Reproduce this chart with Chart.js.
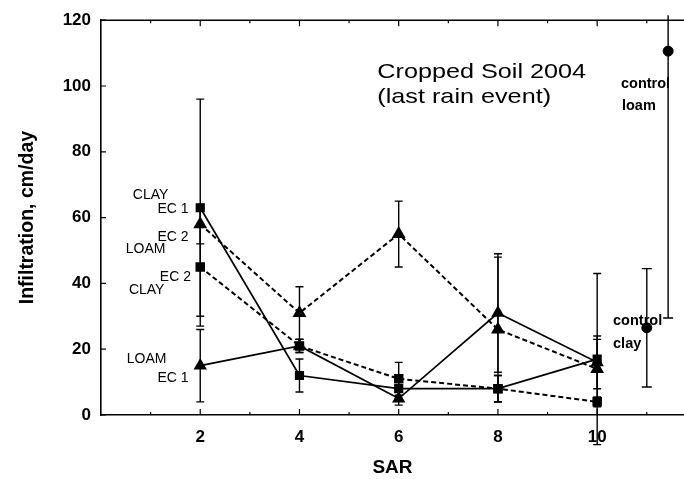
<!DOCTYPE html>
<html>
<head>
<meta charset="utf-8">
<script src="https://cdn.jsdelivr.net/npm/chart.js@4.4.1/dist/chart.umd.min.js"></script>
<style>
html,body{margin:0;padding:0;background:#fff;}
#wrap{width:684px;height:479px;}
</style>
</head>
<body>
<div id="wrap"><canvas id="c" width="684" height="479"></canvas></div>
<script>
// ---- data ----
const sar = [2, 4, 6, 8, 10];
const clayEC1 = [63, 12, 8, 8, 17];
const clayEC2 = [45, 21, 11, 8, 4];
const loamEC1 = [15, 21, 5, 31, 16];
const loamEC2 = [58, 31, 55, 26, 14];
const clayEC1Err = [33, 5, 3, 4, 26];
const clayEC2Err = [18, 2, 5, 4, 1.5];
const loamEC1Err = [11, 2, 2, 18, 8];
const loamEC2Err = [6, 8, 10, 22, 9];
const controlLoamX = [11.43];
const controlLoam = [110.6];
const controlLoamLow = [29.5];
const controlLoamHigh = [121.5];
const controlClayX = [11.0];
const controlClay = [26.5];
const controlClayErr = [18];
const xTicks = [2, 4, 6, 8, 10];
const yTicks = [0, 20, 40, 60, 80, 100, 120];
const titleLines = ["Cropped Soil 2004", "(last rain event)"];
const seriesLabels = [
  {t: "CLAY", x: 1.0, y: 66.9}, {t: "EC 1", x: 1.45, y: 62.7},
  {t: "EC 2", x: 1.45, y: 54.0}, {t: "LOAM", x: 0.9, y: 50.4},
  {t: "EC 2", x: 1.5, y: 42.0}, {t: "CLAY", x: 0.92, y: 38.1},
  {t: "LOAM", x: 0.92, y: 17.1}, {t: "EC 1", x: 1.45, y: 11.1}
];
const controlLabels = [
  {t: "control", x: 10.48, y: 100.5}, {t: "loam", x: 10.5, y: 93.9},
  {t: "control", x: 10.32, y: 28.5}, {t: "clay", x: 10.32, y: 21.7}
];

const pts = (xs, ys) => xs.map((x, i) => ({x: x, y: ys[i]}));
const symErr = (ys, es) => ys.map((v, i) => [v - es[i], v + es[i]]);

const datasets = [
  {label: "CLAY EC 1", data: pts(sar, clayEC1), err: symErr(clayEC1, clayEC1Err), cap: 8,
   showLine: true, borderColor: "#000", borderWidth: 1.7, pointStyle: "rect", pointRadius: 5.3,
   backgroundColor: "#000", pointBackgroundColor: "#000", pointBorderColor: "#000"},
  {label: "CLAY EC 2", data: pts(sar, clayEC2), err: symErr(clayEC2, clayEC2Err), cap: 8,
   showLine: true, borderColor: "#000", borderWidth: 2, borderDash: [5, 3], pointStyle: "rect", pointRadius: 5.3,
   backgroundColor: "#000", pointBackgroundColor: "#000", pointBorderColor: "#000"},
  {label: "LOAM EC 1", data: pts(sar, loamEC1), err: symErr(loamEC1, loamEC1Err), cap: 8,
   showLine: true, borderColor: "#000", borderWidth: 1.7, pointStyle: "triangle", pointRadius: 6,
   backgroundColor: "#000", pointBackgroundColor: "#000", pointBorderColor: "#000"},
  {label: "LOAM EC 2", data: pts(sar, loamEC2), err: symErr(loamEC2, loamEC2Err), cap: 8,
   showLine: true, borderColor: "#000", borderWidth: 2, borderDash: [5, 3], pointStyle: "triangle", pointRadius: 6,
   backgroundColor: "#000", pointBackgroundColor: "#000", pointBorderColor: "#000"},
  {label: "control loam", data: pts(controlLoamX, controlLoam),
   err: controlLoam.map((v, i) => [controlLoamLow[i], controlLoamHigh[i]]), cap: 10, noTopCap: true,
   showLine: false, pointStyle: "circle", pointRadius: 5, borderColor: "#000",
   backgroundColor: "#000", pointBackgroundColor: "#000", pointBorderColor: "#000"},
  {label: "control clay", data: pts(controlClayX, controlClay), err: symErr(controlClay, controlClayErr), cap: 10,
   showLine: false, pointStyle: "circle", pointRadius: 5, borderColor: "#000",
   backgroundColor: "#000", pointBackgroundColor: "#000", pointBorderColor: "#000"}
];

const FONT = "'Liberation Sans', Arial, sans-serif";

const decor = {
  id: "decor",
  beforeDatasetsDraw(chart) {
    const ctx = chart.ctx, xs = chart.scales.x, ys = chart.scales.y;
    ctx.save();
    ctx.strokeStyle = "#000";
    ctx.lineWidth = 1.4;
    chart.data.datasets.forEach(ds => {
      if (!ds.err) return;
      ds.data.forEach((p, i) => {
        const px = xs.getPixelForValue(p.x);
        const lo = ys.getPixelForValue(ds.err[i][0]);
        const hi = ys.getPixelForValue(ds.err[i][1]);
        const h = ds.cap / 2;
        ctx.beginPath();
        ctx.moveTo(px, lo); ctx.lineTo(px, hi);
        ctx.moveTo(px - h, lo); ctx.lineTo(px + h, lo);
        if (!ds.noTopCap) { ctx.moveTo(px - h, hi); ctx.lineTo(px + h, hi); }
        ctx.stroke();
      });
    });
    ctx.restore();
  },
  afterDraw(chart) {
    const ctx = chart.ctx, xs = chart.scales.x, ys = chart.scales.y, a = chart.chartArea;
    ctx.save();
    ctx.strokeStyle = "#000";
    ctx.lineWidth = 1.6;
    ctx.beginPath();
    ctx.moveTo(a.left, a.top); ctx.lineTo(chart.width, a.top);
    ctx.stroke();
    ctx.lineWidth = 1.2;
    ctx.beginPath();
    for (let v = 1; v <= 11; v++) {
      const px = xs.getPixelForValue(v);
      const len = (v % 2 === 0) ? 6 : 3;
      ctx.moveTo(px, a.top); ctx.lineTo(px, a.top + len);
      ctx.moveTo(px, a.bottom); ctx.lineTo(px, a.bottom - len);
    }
    yTicks.forEach(v => {
      const py = ys.getPixelForValue(v);
      ctx.moveTo(a.left, py); ctx.lineTo(a.left + 5, py);
    });
    ctx.stroke();

    ctx.fillStyle = "#000";
    ctx.font = "21px " + FONT;
    ctx.textBaseline = "alphabetic";
    ctx.textAlign = "left";
    const tx = xs.getPixelForValue(5.57);
    [ys.getPixelForValue(102.3), ys.getPixelForValue(94.8)].forEach((py, i) => {
      ctx.save();
      ctx.translate(tx, py);
      ctx.scale(1.2, 1);
      ctx.fillText(titleLines[i], 0, 0);
      ctx.restore();
    });
    ctx.font = "14px " + FONT;
    ctx.textAlign = "center";
    ctx.textBaseline = "middle";
    seriesLabels.forEach(l => {
      ctx.fillText(l.t, xs.getPixelForValue(l.x), ys.getPixelForValue(l.y));
    });
    ctx.font = "bold 14.5px " + FONT;
    ctx.textAlign = "left";
    controlLabels.forEach(l => {
      ctx.fillText(l.t, xs.getPixelForValue(l.x), ys.getPixelForValue(l.y));
    });
    ctx.restore();
  }
};

new Chart(document.getElementById("c"), {
  type: "scatter",
  data: {datasets: datasets},
  plugins: [decor],
  options: {
    responsive: false,
    devicePixelRatio: 1,
    animation: false,
    layout: {autoPadding: false, padding: {top: 15, right: 0, left: 0, bottom: 0}},
    plugins: {legend: {display: false}, tooltip: {enabled: false}},
    elements: {line: {tension: 0, fill: false}},
    scales: {
      x: {
        type: "linear", min: 0, max: 11.75,
        afterBuildTicks: ax => { ax.ticks = xTicks.map(v => ({value: v})); },
        afterFit: ax => { ax.height = 64; },
        grid: {display: false, drawTicks: false},
        border: {display: true, color: "#000", width: 1.6},
        ticks: {color: "#000", font: {family: FONT, size: 17, weight: "bold"}, padding: 12, maxRotation: 0},
        title: {display: true, text: "SAR", color: "#000", font: {family: FONT, size: 19, weight: "bold"}, padding: {top: 10, bottom: 0}}
      },
      y: {
        type: "linear", min: 0, max: 120,
        afterBuildTicks: ax => { ax.ticks = yTicks.map(v => ({value: v})); },
        afterFit: ax => { ax.width = 101; },
        grid: {display: false, drawTicks: false},
        border: {display: true, color: "#000", width: 1.6},
        ticks: {color: "#000", font: {family: FONT, size: 17, weight: "bold"}, padding: 10},
        title: {display: true, text: "Infiltration, cm/day", color: "#000", font: {family: FONT, size: 19.5, weight: "bold"}, padding: {top: 16, bottom: 4}}
      }
    }
  }
});
</script>
</body>
</html>
